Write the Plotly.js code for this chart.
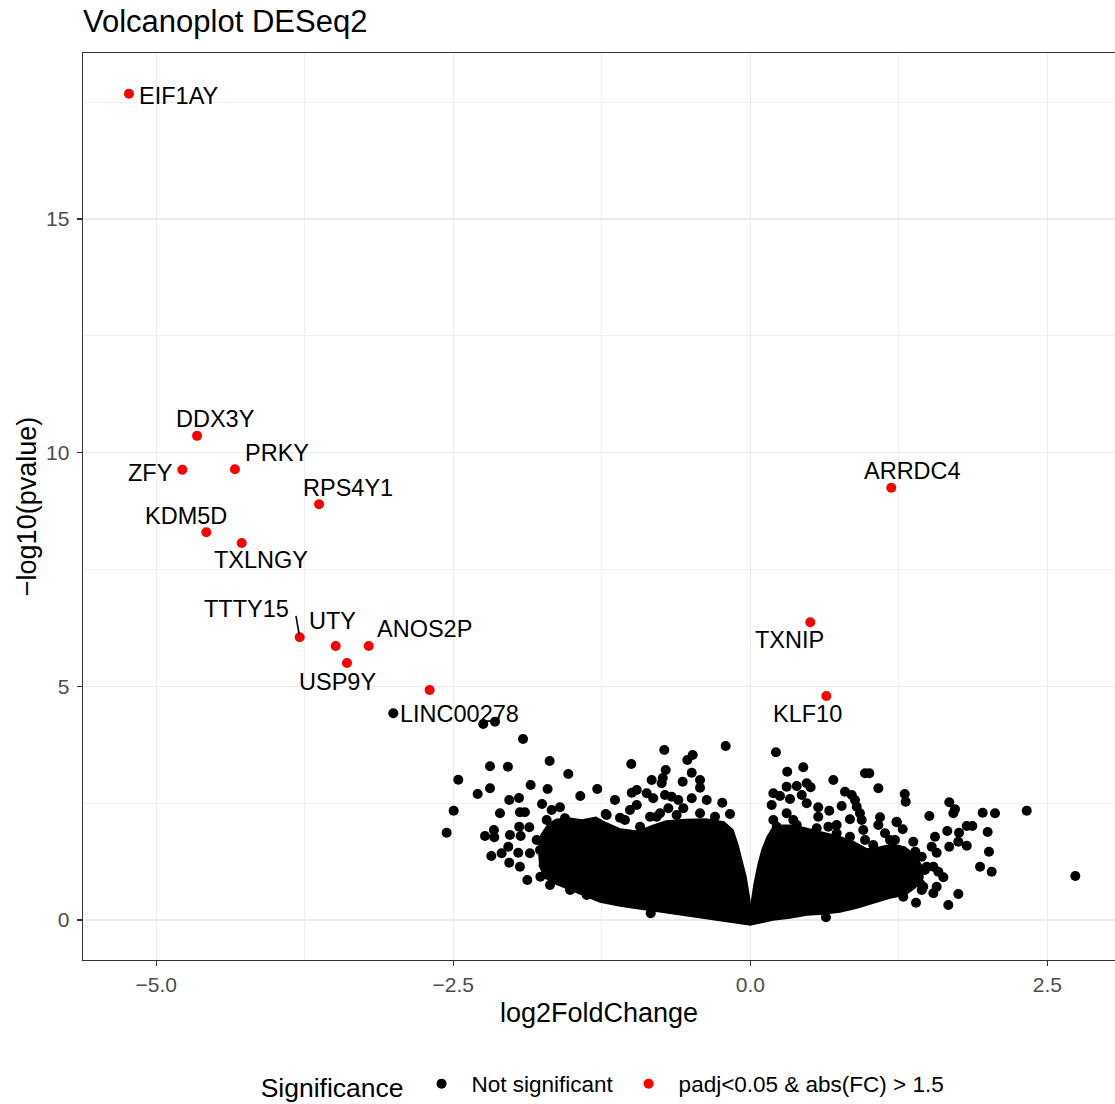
<!DOCTYPE html>
<html>
<head>
<meta charset="utf-8">
<script src="https://cdn.plot.ly/plotly-3.0.1.min.js"></script>
<style>
  html, body { margin: 0; padding: 0; background: #ffffff; overflow: hidden; }
  #chart { width: 1115px; height: 1104px; }
</style>
</head>
<body>
<div id="chart"></div>
<script>
// ---- Labelled genes (log2FoldChange, -log10(pvalue), significance flag) ----
const labelledGene = ["EIF1AY", "DDX3Y", "ZFY", "PRKY", "RPS4Y1", "KDM5D", "TXLNGY",
  "TTTY15", "UTY", "ANOS2P", "USP9Y", "LINC00278", "ARRDC4", "TXNIP", "KLF10"];
const labelledFC = [-5.230, -4.657, -4.781, -4.338, -3.630, -4.579, -4.281,
  -3.793, -3.490, -3.212, -3.395, -3.005, 1.187, 0.505, 0.640];
const labelledP = [17.68, 10.36, 9.636, 9.645, 8.896, 8.297, 8.068,
  6.050, 5.863, 5.863, 5.500, 4.423, 9.251, 6.371, 4.793];
const labelledSignificant = [1, 1, 1, 1, 1, 1, 1, 1, 1, 1, 1, 0, 1, 1, 1];

// Significant gene without a label
const otherSigFC = [-2.699];
const otherSigP = [4.922];

// ---- Not significant genes outside the dense core ----
const nsFC = [
  -2.248, -2.149, -1.913, -2.191, -2.040, -1.689, -1.532, -2.458, -2.295, -2.191,
  -1.849, -1.706, -1.431, -1.288, -2.497, -2.029, -1.947, -1.753, -2.107, -1.939,
  -1.897, -1.672, -1.602, -2.556, -2.233, -2.158, -2.155, -1.945, -1.860, -1.714,
  -1.560, -2.023, -1.933, -2.180, -2.093, -2.037, -1.953, -2.029, -1.939, -1.877,
  -1.855, -1.798, -1.767, -1.686, -1.517, -1.377, -1.770,
  -0.207, -0.724, -1.002, -0.530, -0.485, -0.712, -0.830, -0.746, -0.737, -0.569,
  -0.493, -0.423, -0.423, -0.998, -0.956, -1.139, -0.872, -0.817, -0.718, -0.662,
  -0.606, -0.493, -0.367, -0.236, -1.013, -0.956, -0.690, -1.217, -1.097, -0.844,
  -0.760, -0.564, -0.171, -0.838,
  -1.209, -1.055, -0.928, -0.788, -0.620, -0.423, -0.297,
  0.216, 0.311, 0.446, 0.699, 0.966, 1.002, 1.078, 0.306, 0.391, 0.475,
  0.508, 0.194, 0.250, 0.433, 0.334, 0.180, 0.475, 0.572, 0.797, 0.854,
  0.881, 0.769, 0.665, 0.896, 0.923, 0.938, 0.951, 0.966, 0.194, 0.306,
  0.362, 0.572, 0.839, 0.657, 0.727, 1.092, 1.078, 1.134, 1.232, 1.218,
  0.637,
  0.222, 0.391, 0.559, 0.727, 0.839, 1.035, 1.176, 1.443, 1.470, 1.428,
  1.300, 1.308, 1.675, 1.723, 1.709, 1.507, 1.956, 2.060, 2.327, 1.232,
  1.283, 1.822, 1.869, 1.658, 1.757, 1.998, 1.555, 1.372, 1.527, 1.569,
  1.675, 1.751, 1.822, 1.389, 2.009, 1.934, 2.032, 2.736, 1.485, 1.541,
  1.583, 1.625, 1.456, 1.443, 1.569, 1.541, 1.751, 1.395, 1.667, 1.288
];
const nsP = [
  4.194, 4.244, 3.873, 3.289, 3.281, 3.403, 3.124, 3.002, 2.696, 2.818,
  2.889, 2.803, 2.654, 2.803, 2.339, 2.568, 2.611, 2.482, 2.283, 2.305,
  2.305, 2.354, 2.412, 1.868, 1.798, 1.926, 1.770, 1.997, 1.984, 2.140,
  2.176, 1.819, 1.798, 1.370, 1.427, 1.569, 1.440, 1.226, 1.141, 0.856,
  1.427, 1.712, 0.927, 0.749, 0.642, 0.535, 1.498,
  3.724, 3.638, 3.338, 3.424, 3.531, 3.210, 2.996, 2.925, 3.039, 2.960,
  3.152, 2.996, 2.831, 2.724, 2.782, 2.568, 2.711, 2.604, 2.675, 2.639,
  2.568, 2.604, 2.568, 2.510, 2.354, 2.461, 2.390, 2.268, 2.189, 2.211,
  2.283, 2.390, 2.268, 0.143,
  2.247, 2.140, 1.997, 2.211, 2.247, 2.283, 2.211,
  3.589, 3.174, 3.268, 2.996, 3.139, 3.139, 2.818, 2.853, 2.868, 2.925,
  2.840, 2.711, 2.654, 2.675, 2.589, 2.461, 2.497, 2.412, 2.746, 2.675,
  2.568, 2.440, 2.339, 2.425, 2.283, 2.140, 1.926, 1.712, 2.140, 2.283,
  2.140, 2.211, 2.155, 1.997, 2.033, 2.198, 2.033, 1.855, 2.104, 1.712,
  0.058,
  1.997, 2.033, 1.962, 1.855, 1.783, 1.605, 1.712, 1.355, 1.070, 0.785,
  2.696, 2.532, 2.519, 2.369, 2.283, 2.226, 2.296, 2.283, 2.339, 2.091,
  1.941, 2.012, 2.012, 1.905, 1.868, 1.883, 1.783, 1.676, 1.569, 1.440,
  1.569, 1.676, 1.590, 1.462, 1.462, 1.141, 1.034, 0.942, 1.141, 1.141,
  1.034, 0.914, 0.713, 0.642, 0.713, 0.571, 0.556, 0.370, 0.321, 0.499
];

// ---- Outline of the dense, fully overlapping core of non-significant genes ----
const coreDownFC = [-1.787, -1.762, -1.703, -1.636, -1.535, -1.417, -1.299, -1.215, -1.097, -0.945,
  -0.827, -0.710, -0.541, -0.373, -0.221, -0.146, -0.104, -0.070, -0.036, -0.011,
  0.006, -0.003, -0.289, -0.567, -0.844, -1.097, -1.265, -1.459, -1.636, -1.728, -1.779];
const coreDownP = [1.498, 1.819, 2.050, 2.150, 2.180, 2.140, 2.200, 2.080, 1.950, 1.900,
  2.020, 2.120, 2.150, 2.160, 2.100, 1.930, 1.605, 1.284, 0.920, 0.535,
  0.214, -0.107, 0.000, 0.107, 0.214, 0.300, 0.385, 0.578, 0.770, 0.899, 1.177];
const coreUpFC = [0.006, 0.031, 0.065, 0.098, 0.141, 0.183, 0.267, 0.351, 0.444, 0.545,
  0.654, 0.755, 0.865, 0.982, 1.092, 1.201, 1.302, 1.386, 1.445, 1.454,
  1.386, 1.302, 1.176, 1.033, 0.898, 0.755, 0.612, 0.477, 0.334, 0.191, 0.082, -0.003];
const coreUpP = [0.321, 0.749, 1.177, 1.498, 1.776, 1.950, 2.030, 2.030, 1.980, 1.920,
  1.840, 1.780, 1.680, 1.520, 1.560, 1.620, 1.560, 1.391, 1.156, 0.899,
  0.685, 0.535, 0.471, 0.364, 0.257, 0.171, 0.128, 0.107, 0.043, 0.000, -0.064, -0.107];

// ---- Label placement (pixel offsets of each label from its gene) ----
const labelShiftX = [50, 18.5, -32.3, 42.5, 29, -20.8, 18.8, -53, -2.7, 55.3, -9.3, 65.7, 20.7, -20.3, -19.3];
const labelShiftY = [-2, 17, -3.3, 16.3, 16.3, 16.3, -17, 28.3, 25, 17, -19, -0.7, 16.7, -17.7, -18];

const FONT = "Liberation Sans, Arial, Helvetica, sans-serif";

// Split labelled genes by significance
const blackFC = nsFC.slice(), blackP = nsP.slice();
const redFC = [], redP = [];
labelledGene.forEach((g, i) => {
  if (labelledSignificant[i]) { redFC.push(labelledFC[i]); redP.push(labelledP[i]); }
  else { blackFC.push(labelledFC[i]); blackP.push(labelledP[i]); }
});
otherSigFC.forEach((v, i) => { redFC.push(v); redP.push(otherSigP[i]); });

const coreStyle = {
  type: "scatter", mode: "lines", fill: "toself", fillcolor: "#000000",
  line: { color: "#000000", width: 1.5 }, hoverinfo: "skip", showlegend: false
};

const traces = [
  Object.assign({ x: coreDownFC, y: coreDownP }, coreStyle),
  Object.assign({ x: coreUpFC, y: coreUpP }, coreStyle),
  {
    type: "scatter", mode: "markers", name: "Not significant",
    x: blackFC, y: blackP,
    marker: { color: "#000000", size: 10, line: { width: 0 } }
  },
  {
    type: "scatter", mode: "markers", name: "padj&lt;0.05 &amp; abs(FC) &gt; 1.5",
    x: redFC, y: redP,
    marker: { color: "#FF0000", size: 10, line: { width: 0 } }
  }
];

const annotations = labelledGene.map((g, i) => ({
  x: labelledFC[i], y: labelledP[i], xref: "x", yref: "y",
  text: g, showarrow: false, xanchor: "center", yanchor: "middle",
  xshift: labelShiftX[i], yshift: labelShiftY[i],
  font: { family: FONT, size: 23.5, color: "#000000" }
}));
// leader segment for TTTY15
const tIdx = labelledGene.indexOf("TTTY15");
annotations.push({
  x: labelledFC[tIdx], y: labelledP[tIdx], xref: "x", yref: "y",
  text: "", showarrow: true, arrowhead: 0, arrowwidth: 1.6, arrowcolor: "#000000",
  ax: -4, ay: -23, standoff: 3
});

const gridMajor = "#EBEBEB";
const layout = {
  width: 1115, height: 1104,
  paper_bgcolor: "#ffffff", plot_bgcolor: "#ffffff",
  margin: { l: 83, r: 0, t: 53, b: 144, autoexpand: false },
  font: { family: FONT, color: "#000000" },
  title: {
    text: "Volcanoplot DESeq2", font: { family: FONT, size: 31, color: "#000000" },
    x: 0, xref: "paper", xanchor: "left", y: 0.9805, yref: "container", yanchor: "middle"
  },
  xaxis: {
    range: [-5.617, 3.070], dtick: 2.5, tick0: 0, tickformat: ".1f",
    showgrid: true, gridcolor: gridMajor, gridwidth: 1.5, zeroline: false,
    minor: { dtick: 1.25, tick0: 0, showgrid: true, gridcolor: gridMajor, gridwidth: 0.8, ticks: "" },
    showline: true, linecolor: "#333333", linewidth: 1.4, mirror: true,
    ticks: "outside", ticklen: 5, tickwidth: 1.3, tickcolor: "#333333",
    tickfont: { family: FONT, size: 21, color: "#4D4D4D" },
    title: { text: "log2FoldChange", font: { family: FONT, size: 27, color: "#000000" }, standoff: 8 },
    automargin: false
  },
  yaxis: {
    range: [-0.856, 18.553], dtick: 5, tick0: 0,
    showgrid: true, gridcolor: gridMajor, gridwidth: 1.5, zeroline: false,
    minor: { dtick: 2.5, tick0: 0, showgrid: true, gridcolor: gridMajor, gridwidth: 0.8, ticks: "" },
    showline: true, linecolor: "#333333", linewidth: 1.4, mirror: false,
    ticks: "outside", ticklen: 5, tickwidth: 1.3, tickcolor: "#333333",
    ticklabelstandoff: 3,
    tickfont: { family: FONT, size: 21, color: "#4D4D4D" },
    title: { text: "\u2212log10(pvalue)", font: { family: FONT, size: 27, color: "#000000" }, standoff: 1 },
    automargin: false
  },
  showlegend: true,
  legend: {
    orientation: "h", x: 0.505, xref: "paper", xanchor: "center",
    y: 0.0172, yref: "container", yanchor: "middle",
    font: { family: FONT, size: 22.5, color: "#000000" },
    title: { text: "Significance", side: "left", font: { family: FONT, size: 26.5, color: "#000000" } },
    itemwidth: 50, bgcolor: "rgba(0,0,0,0)"
  },
  annotations: annotations
};

Plotly.newPlot("chart", traces, layout, { staticPlot: true, displayModeBar: false });
</script>
</body>
</html>
